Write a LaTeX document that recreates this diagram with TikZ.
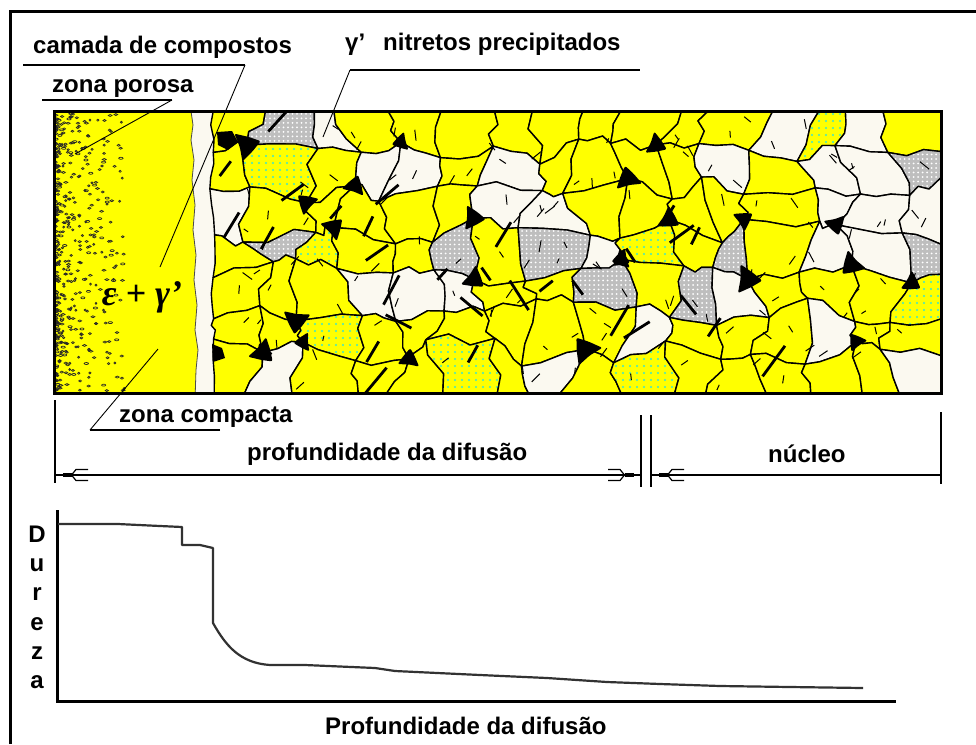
\documentclass[tikz,border=0pt]{standalone}
\usepackage{fontspec}
\setmainfont{Liberation Sans}
\newfontfamily\phasefont{Liberation Serif}
\usetikzlibrary{calc,patterns,patterns.meta}

\definecolor{grainY}{RGB}{255,255,0}
\definecolor{grainW}{RGB}{251,249,240}
\definecolor{grainG}{RGB}{190,190,190}
\definecolor{dotC}{RGB}{60,230,200}
\definecolor{curveC}{RGB}{50,50,50}

\begin{document}
\begin{tikzpicture}[x=1pt,y=-1pt,
  lbl/.style={font=\bfseries\fontsize{24}{28}\selectfont, inner sep=0pt, anchor=base west},
  uline/.style={line width=1.2pt},
  leader/.style={line width=0.9pt},
  grainline/.style={draw=black, line width=1.4pt, line join=round},
  dimline/.style={line width=1.4pt},
  dimtip/.pic={
    \fill (7.5,-2) rectangle (16.5,2);
    \draw[line width=1.2pt] (16.5,0) -- (21,-5.5) -- (33,-5.5);
    \draw[line width=1.2pt] (16.5,0) -- (21,5.5) -- (33,5.5);
  }]
\useasboundingbox (0,0) rectangle (976,744);
\fill[white] (0,0) rectangle (976,744);

% outer frame (open to the right and bottom)
\draw[line width=3pt] (10.5,744) -- (10.5,11) -- (976,11);

% ---------------- microstructure ----------------
\begin{scope}
\clip (54,111) rectangle (941,393);
\fill[grainW] (54,111) rectangle (941,393);

% compound layer epsilon + gamma'
\filldraw[fill=grainY, draw=black!70, line width=0.8pt]
  (40,100) -- (191,100) -- (191,111) -- (193,125) -- (191,140) -- (194,160) -- (192,180)
  -- (195,205) -- (193,230) -- (196,255) -- (194,280) -- (197,305)
  -- (195,330) -- (198,350) -- (196,370) -- (195,400) -- (40,400) -- cycle;

% porous zone specks
\pgfmathsetseed{31}
\foreach \k in {1,...,470}{
  \pgfmathsetmacro\sx{56+70*rnd^2.6}
  \pgfmathsetmacro\sy{113+278*rnd}
  \pgfmathsetmacro\sa{0.9+1.3*rnd}
  \draw[line width=0.7pt, black!85] (\sx,\sy) ellipse ({\sa} and 1.0);
}

% grain network: jittered vertices and wavy shared edges
\pgfmathsetseed{4242}
\pgfmathsetmacro\gx{(941-212)/16}
\pgfmathsetmacro\gy{(393-111)/7}
\foreach \i in {0,...,16}{
  \foreach \j in {0,...,7}{
    \pgfmathsetmacro\ax{ifthenelse(\i==0,4,ifthenelse(\i==16,0,0.36*\gx))}
    \pgfmathsetmacro\ay{ifthenelse(\j==0||\j==7,0,0.36*\gy)}
    \pgfmathsetmacro\px{212+\i*\gx+\ax*rand}
    \pgfmathsetmacro\py{111+\j*\gy+\ay*rand}
    \coordinate (p-\i-\j) at (\px,\py);
  }
}
\foreach \i in {0,...,15}{
  \foreach \j in {0,...,7}{
    \pgfmathtruncatemacro\ii{\i+1}
    \pgfmathsetmacro\ay{ifthenelse(\j==0||\j==7,0,0.16*\gy)}
    \pgfmathsetmacro\dxa{0.06*\gx*rand}
    \pgfmathsetmacro\dya{\ay*rand}
    \pgfmathsetmacro\dxb{0.06*\gx*rand}
    \pgfmathsetmacro\dyb{\ay*rand}
    \coordinate (ha-\i-\j) at ($(p-\i-\j)!0.33!(p-\ii-\j)+(\dxa,\dya)$);
    \coordinate (hb-\i-\j) at ($(p-\i-\j)!0.67!(p-\ii-\j)+(\dxb,\dyb)$);
  }
}
\foreach \i in {0,...,16}{
  \foreach \j in {0,...,6}{
    \pgfmathtruncatemacro\jj{\j+1}
    \pgfmathsetmacro\ax{ifthenelse(\i==16,0,ifthenelse(\i==0,3,0.16*\gx))}
    \pgfmathsetmacro\dxa{\ax*rand}
    \pgfmathsetmacro\dya{0.06*\gy*rand}
    \pgfmathsetmacro\dxb{\ax*rand}
    \pgfmathsetmacro\dyb{0.06*\gy*rand}
    \coordinate (va-\i-\j) at ($(p-\i-\j)!0.33!(p-\i-\jj)+(\dxa,\dya)$);
    \coordinate (vb-\i-\j) at ($(p-\i-\j)!0.67!(p-\i-\jj)+(\dxb,\dyb)$);
  }
}

% grains
\foreach \i in {0,...,15}{
  \foreach \j in {0,...,6}{
    \pgfmathtruncatemacro\ii{\i+1}
    \pgfmathtruncatemacro\jj{\j+1}
    \pgfmathsetmacro\gr{rnd}
    \ifdim\gr pt<0.58pt \def\fc{grainY}\else
      \ifdim\gr pt<0.82pt \def\fc{grainW}\else
        \ifdim\gr pt<0.91pt \def\fc{grainG}\else \def\fc{grainY}\fi\fi\fi
    \fill[fill=\fc] (p-\i-\j) -- (ha-\i-\j) -- (hb-\i-\j) -- (p-\ii-\j)
      -- (va-\ii-\j) -- (vb-\ii-\j) -- (p-\ii-\jj) -- (hb-\i-\jj) -- (ha-\i-\jj)
      -- (p-\i-\jj) -- (vb-\i-\j) -- (va-\i-\j) -- cycle;
    \ifdim\gr pt>0.82pt
      \ifdim\gr pt<0.91pt
        \fill[pattern={Dots[distance=4.5pt,radius=1pt]}, pattern color=white]
          (p-\i-\j) -- (ha-\i-\j) -- (hb-\i-\j) -- (p-\ii-\j)
          -- (va-\ii-\j) -- (vb-\ii-\j) -- (p-\ii-\jj) -- (hb-\i-\jj) -- (ha-\i-\jj)
          -- (p-\i-\jj) -- (vb-\i-\j) -- (va-\i-\j) -- cycle;
      \else
        \fill[pattern={Dots[distance=7pt,radius=1.2pt]}, pattern color=dotC]
          (p-\i-\j) -- (ha-\i-\j) -- (hb-\i-\j) -- (p-\ii-\j)
          -- (va-\ii-\j) -- (vb-\ii-\j) -- (p-\ii-\jj) -- (hb-\i-\jj) -- (ha-\i-\jj)
          -- (p-\i-\jj) -- (vb-\i-\j) -- (va-\i-\j) -- cycle;
      \fi
    \fi
    \draw[grainline] (p-\i-\j) -- (ha-\i-\j) -- (hb-\i-\j) -- (p-\ii-\j)
      -- (va-\ii-\j) -- (vb-\ii-\j) -- (p-\ii-\jj) -- (hb-\i-\jj) -- (ha-\i-\jj)
      -- (p-\i-\jj) -- (vb-\i-\j) -- (va-\i-\j) -- cycle;
  }
}

% dark phase at grain junctions
\foreach \k in {1,...,24}{
  \pgfmathtruncatemacro\bi{1+int(14.99*rnd)}
  \pgfmathtruncatemacro\bj{1+int(5.99*rnd)}
  \pgfmathsetmacro\ba{360*rnd}
  \pgfmathsetmacro\bs{0.9+0.6*rnd}
  \fill[shift={(p-\bi-\bj)}, rotate=\ba, scale=\bs, rounded corners=2pt]
    (-10,-6) -- (0,-5) -- (10,-6) -- (5,3) -- (0,10) -- (-5,3) -- cycle;
}
\fill[shift={(226,140)}] (-9,-8) -- (6,-9) -- (12,2) -- (2,10) -- (-8,5) -- cycle;
\fill[shift={(217,352)}] (-5,-8) -- (5,-4) -- (8,6) -- (-4,10) -- cycle;

% needle-shaped nitride precipitates
\foreach \k in {1,...,30}{
  \pgfmathsetmacro\nx{225+560*rnd^1.3}
  \pgfmathsetmacro\ny{118+268*rnd}
  \pgfmathsetmacro\nq{rnd}
  \pgfmathsetmacro\na{ifthenelse(\nq<0.65,25+40*rnd,115+40*rnd)}
  \pgfmathsetmacro\nl{7+12*rnd}
  \draw[line width=2.8pt, shift={(\nx,\ny)}, rotate=\na] (-\nl,0) -- (\nl,0);
}
% fine intragranular markings
\foreach \k in {1,...,130}{
  \pgfmathsetmacro\nx{230+700*rnd}
  \pgfmathsetmacro\ny{116+272*rnd}
  \pgfmathsetmacro\na{30+120*rnd}
  \pgfmathsetmacro\nl{2.5+3.5*rnd}
  \draw[line width=1pt, shift={(\nx,\ny)}, rotate=\na] (-\nl,0) -- (\nl,0);
}
\end{scope}
\draw[line width=3pt] (54,111) rectangle (941,393);

\node[font=\phasefont\bfseries\itshape\fontsize{36}{40}\selectfont, inner sep=0pt] (eg) at (142,297) {ε + γ’};

% ---------------- labels and leaders ----------------
\node[lbl] (camada) at (33,53) {camada de compostos};
\coordinate (camadaL) at (23,65);
\coordinate (camadaR) at (245,65);
\coordinate (camadaT) at (160,267);
\draw[uline] (camadaL) -- (camadaR);
\draw[leader] (camadaR) -- (camadaT);

\node[lbl] (porosa) at (52,92) {zona porosa};
\coordinate (porosaL) at (42,100);
\coordinate (porosaR) at (172,100);
\coordinate (porosaT) at (75,154);
\draw[uline] (porosaL) -- (porosaR);
\draw[leader] (porosaR) -- (porosaT);

\node[lbl] (gam) at (345,50) {γ’};
\node[lbl] (nitretos) at (383,50) {nitretos precipitados};
\coordinate (nitL) at (350,70);
\coordinate (nitR) at (640,70);
\coordinate (nitT) at (323,137);
\draw[uline] (nitL) -- (nitR);
\draw[leader] (nitL) -- (nitT);

\node[lbl] (compacta) at (119,422) {zona compacta};
\coordinate (compL) at (90,430);
\coordinate (compR) at (220,430);
\coordinate (compT) at (158,349);
\draw[uline] (compR) -- (compL);
\draw[leader] (compL) -- (compT);

% ---------------- dimension lines ----------------
\coordinate (dA) at (55,475);
\coordinate (dB) at (641,475);
\coordinate (dC) at (651,475);
\coordinate (dD) at (941,475);
\draw[line width=1.4pt] ($(dA)+(0,-75)$) -- ($(dA)+(0,8)$);
\draw[line width=1.4pt] ($(dB)+(0,-60)$) -- ($(dB)+(0,12)$);
\draw[line width=1.4pt] ($(dC)+(0,-60)$) -- ($(dC)+(0,12)$);
\draw[line width=1.4pt] ($(dD)+(0,-63)$) -- ($(dD)+(0,9)$);
\draw[dimline] (dA) -- (dB);
\draw[dimline] (dC) -- (dD);
\path (dA) pic {dimtip};
\path (dB) pic[xscale=-1] {dimtip};
\path (dC) pic {dimtip};

\node[lbl] (prof) at (247,460) {profundidade da difusão};
\node[lbl] (nucleo) at (768,462) {núcleo};

% ---------------- hardness profile ----------------
\coordinate (ax0) at (57,701);
\coordinate (axY) at (57,510);
\coordinate (axX) at (896,701);
\draw[line width=3pt, line join=miter] (axY) -- (ax0) -- (axX);
\draw[line width=2.2pt, curveC, line join=round]
  (58,524) -- (118,524) -- (160,526) -- (182,527) -- (182,545) -- (200,545)
  -- (213,548) -- (213,623) .. controls (226,646) and (240,663) .. (270,665)
  -- (305,665) -- (375,668) -- (395,671) -- (480,675) -- (547,678)
  -- (607,682) -- (660,684) -- (720,686) -- (790,687) -- (863,688);

\foreach \ch/\yy in {D/542,u/571,r/600,e/630,z/659,a/688}
  \node[lbl, anchor=base] (dur-\ch) at (37,\yy) {\ch};
\node[lbl] (xlabel) at (325,734) {Profundidade da difusão};

\end{tikzpicture}
\end{document}
